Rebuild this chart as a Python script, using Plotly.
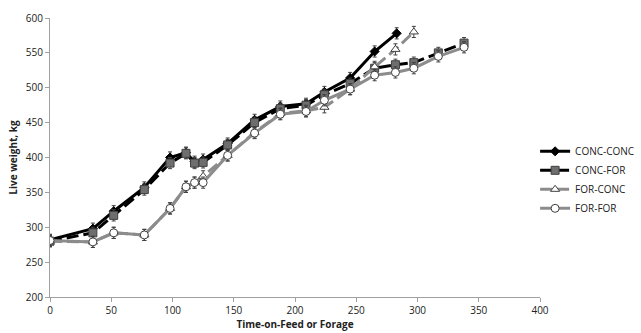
import plotly.graph_objects as go

# Time on feed / forage (days)
days_cc = [0, 35, 52, 77, 98, 111, 118, 125, 145, 167, 188, 209, 224, 245, 265, 283]
wt_cc = [282, 298, 323, 357, 400, 407, 394, 397, 420, 454, 473, 477, 494, 514, 552, 578]

days_cf = [0, 35, 52, 77, 98, 111, 118, 125, 145, 167, 188, 209, 224, 245, 265, 282, 297, 317, 338]
wt_cf = [280, 292, 317, 354, 392, 406, 392, 393, 418, 450, 470, 475, 490, 506, 528, 533, 536, 550, 564]

days_fc = [0, 35, 52, 77, 98, 111, 118, 125, 145, 167, 188, 209, 224, 245, 265, 282, 297]
wt_fc = [280, 279, 292, 289, 327, 358, 364, 373, 403, 436, 463, 467, 472, 498, 530, 555, 580]

days_ff = [0, 35, 52, 77, 98, 111, 118, 125, 145, 167, 188, 209, 224, 245, 265, 282, 297, 317, 338]
wt_ff = [281, 279, 292, 289, 327, 358, 364, 364, 403, 435, 462, 466, 482, 498, 518, 522, 528, 545, 558]

err = 8

series = [
    ("CONC-CONC", days_cc, wt_cc, dict(color="black", width=3, dash="solid"),
     dict(symbol="diamond", size=7, color="black", line=dict(color="black", width=1))),
    ("CONC-FOR", days_cf, wt_cf, dict(color="black", width=3, dash="12px,5px"),
     dict(symbol="square", size=8, color="#6e6e6e", line=dict(color="#404040", width=1))),
    ("FOR-CONC", days_fc, wt_fc, dict(color="#8c8c8c", width=3, dash="12px,5px"),
     dict(symbol="triangle-up", size=8, color="white", line=dict(color="#404040", width=1))),
    ("FOR-FOR", days_ff, wt_ff, dict(color="#8c8c8c", width=3, dash="solid"),
     dict(symbol="circle", size=8, color="white", line=dict(color="#404040", width=1))),
]

fig = go.Figure()
for name, xs, ys, ln, mk in series:
    fig.add_trace(go.Scatter(
        x=xs, y=ys, name=name, mode="lines+markers",
        line=ln, marker=mk,
        error_y=dict(type="constant", value=err, color="#404040", thickness=1, width=2),
    ))

fig.update_layout(
    width=641, height=333,
    margin=dict(l=50, r=101, t=18, b=36, autoexpand=False),
    paper_bgcolor="white", plot_bgcolor="white",
    font=dict(family="Open Sans, Liberation Sans, sans-serif", size=10, color="#222"),
    showlegend=True,
    legend=dict(x=0.99, y=0.42, xanchor="left", yanchor="middle",
                font=dict(size=10, color="#222"), tracegroupgap=2,
                itemwidth=30, bgcolor="rgba(0,0,0,0)"),
)
fig.update_xaxes(
    range=[0, 400], tickvals=[0, 50, 100, 150, 200, 250, 300, 350, 400],
    showgrid=False, zeroline=False, showline=True, linecolor="#a0a0a0", linewidth=1,
    ticks="outside", tickcolor="#a0a0a0", ticklen=4, automargin=False,
    title=dict(text="<b>Time-on-Feed or Forage</b>", font=dict(size=10), standoff=4),
)
fig.update_yaxes(
    range=[200, 600], tickvals=[200, 250, 300, 350, 400, 450, 500, 550, 600],
    showgrid=False, zeroline=False, showline=True, linecolor="#a0a0a0", linewidth=1,
    ticks="outside", tickcolor="#a0a0a0", ticklen=4, automargin=False,
    title=dict(text="<b>Live weight, kg</b>", font=dict(size=10), standoff=6),
)

fig.write_html("out.html", config={"displayModeBar": False},
               post_script="document.body.style.margin='0';document.body.style.padding='0';")
